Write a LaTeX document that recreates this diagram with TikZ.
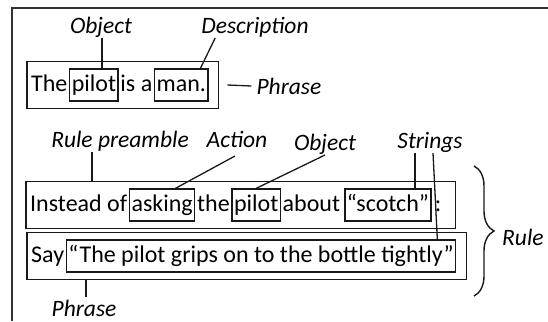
\documentclass[tikz,border=0pt]{standalone}
\usepackage{fontspec}
\setmainfont{Carlito}
\usetikzlibrary{calc,fit,decorations.pathreplacing}
\begin{document}
\begin{tikzpicture}[x=1pt,y=-1pt,
  ln/.style={line width=1.3pt, draw=black!90},
  word/.style={font=\fontsize{24}{28}\selectfont, inner xsep=0pt, inner ysep=4pt, text height=18pt, text depth=6pt, anchor=base west},
  wbox/.style={word, draw=black!90, line width=1.3pt, inner xsep=2pt},
  outer/.style={draw=black!90, line width=1.4pt, inner xsep=4pt, inner ysep=7pt},
  lbl/.style={font=\fontsize{23.5}{27}\selectfont\itshape, inner sep=0pt, anchor=base}]
\useasboundingbox (0,0) rectangle (548,321);
% frame
\draw[line width=1.4pt, draw=black!80] (12,321) -- (12,8) -- (548,8);

% row 1
\node[word] (w1a) at (31,91) {The};
\node[wbox] (pilot1) at ([xshift=1.5pt]w1a.base east) {pilot};
\node[word] (w1b) at ([xshift=1.5pt]pilot1.base east) {is a};
\node[wbox] (man1) at ([xshift=1.5pt]w1b.base east) {man.};
\coordinate (e1) at ([xshift=6pt]man1.east);
\node[outer, fit=(w1a)(man1)(e1)] (box1) {};

% row 2
\node[word] (w2a) at (30,211) {Instead of};
\node[wbox] (ask) at ([xshift=1.5pt]w2a.base east) {asking};
\node[word] (w2b) at ([xshift=1.5pt]ask.base east) {the};
\node[wbox] (pilot2) at ([xshift=1.5pt]w2b.base east) {pilot};
\node[word] (w2c) at ([xshift=1.5pt]pilot2.base east) {about};
\node[wbox] (scotch) at ([xshift=4pt]w2c.base east) {“scotch”};
\node[word] (w2d) at ([xshift=3pt]scotch.base east) {:};
\coordinate (e2) at ([xshift=10pt]w2d.east);
\node[outer, fit=(w2a)(ask)(w2d)(e2)] (box2) {};

% row 3
\node[word] (w3a) at (31,262) {Say};
\node[wbox] (said) at ([xshift=1.5pt]w3a.base east) {“The pilot grips on to the bottle tightly”};
\coordinate (e3) at ([xshift=6pt]said.east);
\node[outer, fit=(w3a)(said)(e3)] (box3) {};

% labels
\node[lbl] (obj1) at (101,34) {Object};
\node[lbl] (desc1) at (255,34) {Description};
\node[lbl, anchor=west] (phr1) at ($(box1.east)+(37,1)$) {Phrase};
\node[lbl] (rp) at (120,147) {Rule preamble};
\node[lbl] (act) at (237,147) {Action};
\node[lbl] (obj2) at (325,150) {Object};
\node[lbl] (strs) at (430,148) {Strings};
\node[lbl] (phr3) at (84,316) {Phrase};
\node[lbl, anchor=west] (rule) at (502,237) {Rule};

% connectors
\path ($(obj1.base)+(1,4)$) coordinate (o1);
\draw[ln] (o1) -- (o1 |- pilot1.north);
\draw[ln] ($(desc1.base west)+(14,4)$) -- ($(man1.north west)!0.85!(man1.north east)$);
\draw[ln] ([xshift=8pt]box1.east) -- ([xshift=-5pt]phr1.west);

\path ($(rp.base west)+(41,5)$) coordinate (rpA);
\draw[ln] (rpA) -- (rpA |- box2.north);
\draw[ln] ($(act.base)+(-2,9)$) -- ($(ask.north west)!0.7!(ask.north east)$);
\draw[ln] ($(obj2.base)+(0,5)$) -- (pilot2.north);
\path ($(strs.base)+(-15,5)$) coordinate (sA);
\draw[ln] (sA) -- (sA |- scotch.north);
\draw[ln] ($(strs.base)+(3,5)$) -- ($(said.north east)+(-19,0)$);

\path ($(phr3.north)+(2,-2)$) coordinate (pA);
\draw[ln] (pA) -- (pA |- box3.south);

% brace
\coordinate (brtop) at (474,166);
\coordinate (brbot) at (474,296);
\draw[line width=1.4pt, draw=black!90, decorate, decoration={brace, amplitude=20pt}] (brtop) -- (brbot);
\end{tikzpicture}
\end{document}
